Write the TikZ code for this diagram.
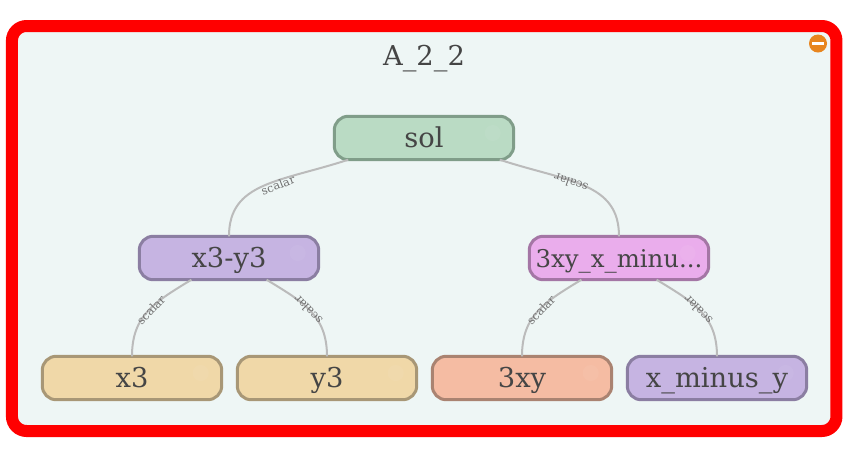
\documentclass[tikz,border=0pt]{standalone}
\usepackage{fontspec}
\setmainfont{DejaVu Serif}
\usetikzlibrary{calc}
\definecolor{panelbg}{HTML}{EEF6F5}
\definecolor{inktext}{HTML}{454545}
\definecolor{linkgray}{HTML}{BBBBBB}
\definecolor{labelgray}{HTML}{707070}
\definecolor{minusorange}{HTML}{E8851E}
\tikzstyle{panel}=[draw=red,line width=9pt,fill=panelbg,rounded corners=11pt,minimum width=618.4pt,minimum height=303.75pt,inner sep=0pt]
\tikzstyle{block}=[draw,line width=2.25pt,rounded corners=10.5pt,minimum width=134.6pt,minimum height=32.6pt,outer sep=0pt,inner sep=0pt,text height=14.5pt,text depth=0pt,text=inktext,font=\fontsize{20.5}{24}\selectfont]
\tikzstyle{link}=[draw=linkgray,line width=1.5pt]
\tikzstyle{edgelabel}=[inner sep=0pt,text=labelgray,font=\fontsize{8.6}{10}\selectfont]
\tikzstyle{c1}=[fill={rgb,255:red,186;green,219;blue,196},draw={rgb,255:red,128;green,157;blue,137}]
\tikzstyle{c2}=[fill={rgb,255:red,198;green,180;blue,226},draw={rgb,255:red,139;green,126;blue,162}]
\tikzstyle{c3}=[fill={rgb,255:red,234;green,173;blue,236},draw={rgb,255:red,164;green,118;blue,165}]
\tikzstyle{c4}=[fill={rgb,255:red,240;green,216;blue,168},draw={rgb,255:red,168;green,151;blue,118}]
\tikzstyle{c5}=[fill={rgb,255:red,245;green,188;blue,163},draw={rgb,255:red,170;green,131;blue,113}]
\tikzstyle{hint}=[circle,fill=white,fill opacity=0.05,minimum size=12pt,inner sep=0pt]

\begin{document}
\begin{tikzpicture}[x=0.75pt,y=-0.75pt]
	\useasboundingbox (0,0) rectangle (844,455);
	\node[panel] (frame) at (424.2,228.5) {};
	\node[text=inktext,font=\fontsize{20.5}{24}\selectfont,inner sep=0pt,text height=14.5pt,text depth=0pt] (title) at (424,56) {A\_2\_2};
	\node[circle,fill=minusorange,minimum size=13.5pt,inner sep=0pt] (minus) at (818,43.5) {};
	\node[fill=white,minimum width=9pt,minimum height=2.25pt,inner sep=0pt] (minusbar) at (minus) {};

	\node[block,c1] (sol) at (424,138) {sol};
	\node[block,c2] (x3y3) at (229,258) {x3-y3};
	\node[block,c3] (xyminus) at (619,258) {\fontsize{18.3}{22}\selectfont 3xy\_x\_minu...};
	\node[block,c4] (x3) at (132,378) {x3};
	\node[block,c4] (y3) at (327,378) {y3};
	\node[block,c5] (xy) at (522,378) {3xy};
	\node[block,c2] (xminusy) at (717,378) {x\_minus\_y};

	\foreach \name in {sol,x3y3,xyminus,x3,y3,xy,xminusy}
	\node[hint] (hint\name) at ($(\name.east)+(-21,-5)$) {};

	% connectors, top row then the two pairs below
	\draw[link] (sol.196) .. controls (280,182) and (229,182) .. (x3y3.north);
	\draw[link] (sol.-16) .. controls (568,182) and (619,182) .. (xyminus.north);
	\draw[link] (x3y3.210) .. controls (155,302) and (132,315) .. (x3.north);
	\draw[link] (x3y3.-30) .. controls (303,302) and (327,315) .. (y3.north);
	\draw[link] (xyminus.210) .. controls (545,302) and (522,315) .. (xy.north);
	\draw[link] (xyminus.-30) .. controls (693,302) and (717,315) .. (xminusy.north);

	\node[edgelabel,rotate=21] (l1) at (278,185) {scalar};
	\node[edgelabel,rotate=160] (l2) at (571,183) {scalar};
	\node[edgelabel,rotate=46] (l3) at (151,310) {scalar};
	\node[edgelabel,rotate=134] (l4) at (308,310) {scalar};
	\node[edgelabel,rotate=46] (l5) at (541,310) {scalar};
	\node[edgelabel,rotate=134] (l6) at (698,310) {scalar};
\end{tikzpicture}
\end{document}
